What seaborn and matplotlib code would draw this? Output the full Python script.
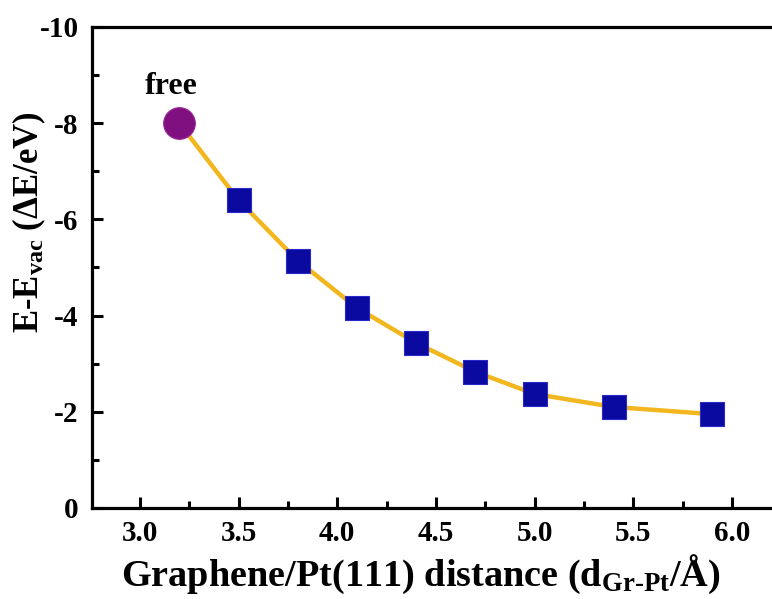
import numpy as np
import pandas as pd
import matplotlib
matplotlib.use("Agg")
import matplotlib.pyplot as plt
import seaborn as sns
from matplotlib.ticker import MultipleLocator

# Graphene/Pt(111) separation (Å) and the energy relative to vacuum (eV)
free_distance = [3.2]
free_energy = [-8.0]
distance = [3.5, 3.8, 4.1, 4.4, 4.7, 5.0, 5.4, 5.9]
energy = [-6.40, -5.14, -4.16, -3.43, -2.83, -2.37, -2.10, -1.95]

x_ticks = [3.0, 3.5, 4.0, 4.5, 5.0, 5.5, 6.0]
y_ticks = [0, -2, -4, -6, -8, -10]

sns.set_theme(style="white")
plt.rcParams["font.family"] = ["Liberation Serif", "DejaVu Serif"]
plt.rcParams["text.color"] = "black"
plt.rcParams["axes.labelcolor"] = "black"
plt.rcParams["mathtext.fontset"] = "custom"
plt.rcParams["mathtext.rm"] = "Liberation Serif:bold"
plt.rcParams["mathtext.bf"] = "Liberation Serif:bold"
plt.rcParams["mathtext.it"] = "Liberation Serif:bold"

curve = pd.DataFrame({"d": free_distance + distance, "E": free_energy + energy})
pts = pd.DataFrame({"d": distance, "E": energy})
free = pd.DataFrame({"d": free_distance, "E": free_energy})

fig = plt.figure(figsize=(7.72, 5.99), dpi=100)
ax = fig.add_axes([0.119, 0.152, 0.881, 0.803])

sns.lineplot(data=curve, x="d", y="E", ax=ax, color="#F2B71F", linewidth=3.2,
             zorder=2, sort=True)
sns.scatterplot(data=pts, x="d", y="E", ax=ax, marker="s", s=290,
                color="#0A0AA0", edgecolor="#2A2AC8", linewidth=0.8, zorder=3)
sns.scatterplot(data=free, x="d", y="E", ax=ax, marker="o", s=520,
                color="#80107F", edgecolor="#9A2A99", linewidth=0.8, zorder=3)

ax.annotate("free", xy=(free_distance[0], free_energy[0]), xytext=(-6, 21),
            textcoords="offset points", ha="center", va="baseline",
            fontsize=23, fontweight="bold", color="black")

ax.set_xlim(2.757, 6.203)
ax.set_ylim(0, -10)
ax.set_xticks(x_ticks)
ax.set_xticklabels([f"{v:.1f}" for v in x_ticks])
ax.set_yticks(y_ticks)
ax.set_yticklabels([f"{v:d}" for v in y_ticks])
ax.xaxis.set_minor_locator(MultipleLocator(0.25))
ax.yaxis.set_minor_locator(MultipleLocator(1))

ax.tick_params(axis="both", which="major", direction="in", length=8, width=2.2,
               labelsize=21, color="black", labelcolor="black")
ax.tick_params(axis="x", which="major", pad=9)
ax.tick_params(axis="y", which="major", pad=9.5)
ax.tick_params(axis="both", which="minor", direction="in", length=5, width=2.2,
               color="black")
ax.tick_params(axis="x", which="both", bottom=True, top=False)
ax.tick_params(axis="y", which="both", left=True, right=False)
for lbl in ax.get_xticklabels() + ax.get_yticklabels():
    lbl.set_fontweight("bold")

for side in ["left", "bottom", "top"]:
    ax.spines[side].set_visible(True)
    ax.spines[side].set_linewidth(2.3)
    ax.spines[side].set_color("black")
ax.spines["right"].set_visible(False)

ax.set_xlabel(r"Graphene/Pt(111) distance (d$_{\mathregular{Gr\text{-}Pt}}$/Å)",
              fontsize=27.5, fontweight="bold", color="black")
ax.xaxis.set_label_coords(0.484, -0.093)
ax.set_ylabel(r"E-E$_{\mathregular{vac}}$ (ΔE/eV)", fontsize=25,
              fontweight="bold", color="black")
ax.yaxis.set_label_coords(-0.065, 0.595)

fig.savefig("out.png", dpi=100, facecolor="white")
